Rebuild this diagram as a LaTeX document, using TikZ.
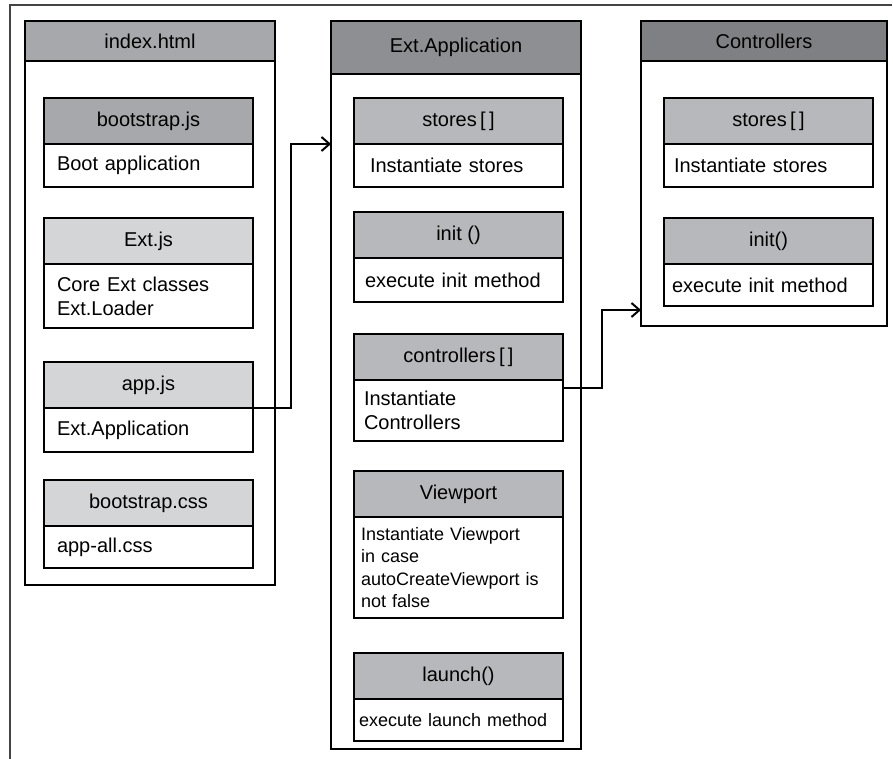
\documentclass[tikz,border=0pt]{standalone}
\usepackage{fontspec}
\setmainfont{Liberation Sans}
\usetikzlibrary{arrows.meta, positioning}

\definecolor{frame}{HTML}{444444}
\definecolor{hdrA}{HTML}{A7A8AB}
\definecolor{hdrB}{HTML}{8E8F92}
\definecolor{hdrC}{HTML}{7F8083}
\definecolor{hdrlight}{HTML}{D4D5D7}
\definecolor{hdrmid}{HTML}{B7B8BB}

\begin{document}
\begin{tikzpicture}[x=1pt, y=-1pt,
  line width=1.4pt,
  col/.style={draw, inner sep=0pt, outer sep=0pt, font=\fontsize{20}{24}\selectfont},
  colhdr/.style={col, fill=#1},
  box/.style={draw, inner sep=0pt, outer sep=0pt, minimum width=209pt, font=\fontsize{20}{24}\selectfont},
  hdr/.style={box, fill=#1, minimum height=46pt},
  body/.style={box, fill=white, inner xsep=#1, text width=209pt-2*#1, align=left},
  body/.default=13pt,
  small/.style={font=\fontsize{18}{22.6}\selectfont},
  flow/.style={line width=1.3pt, -{Straight Barb[length=8pt, width=14pt, line width=2pt]}}
]
\useasboundingbox (0,0) rectangle (893,759);
\draw[frame, line width=2pt] (10,759) -- (10,5.5) -- (892,5.5);

\node[colhdr=hdrA, anchor=north west, minimum width=250pt, minimum height=40pt] (idxH) at (25,21) {index.html};
\node[col, fill=white, minimum width=250pt, minimum height=524pt, below=0pt of idxH] (idxB) {};
\node[colhdr=hdrB, anchor=north west, minimum width=250pt, minimum height=53pt] (extH) at (331,21) {Ext.Application};
\node[col, fill=white, minimum width=250pt, minimum height=675pt, below=0pt of extH] (extB) {};
\node[colhdr=hdrC, anchor=north west, minimum width=246pt, minimum height=40pt] (ctrlH) at (641,21) {Controllers};
\node[col, fill=white, minimum width=246pt, minimum height=265pt, below=0pt of ctrlH] (ctrlB) {};

\node[hdr=hdrA, anchor=north west] (bsH) at (44,98) {bootstrap.js};
\node[body, minimum height=43pt, below=0pt of bsH] (bsB) {Boot application};
\node[hdr=hdrlight, below=31pt of bsB] (extjsH) {Ext.js};
\node[body, minimum height=64pt, below=0pt of extjsH] (extjsB) {Core Ext classes\\Ext.Loader};
\node[hdr=hdrlight, below=34pt of extjsB] (appH) {app.js};
\node[body, minimum height=44pt, below=0pt of appH] (appB) {Ext.Application};
\node[hdr=hdrlight, below=28pt of appB] (cssH) {bootstrap.css};
\node[body, minimum height=42pt, below=0pt of cssH] (cssB) {app-all.css};

\node[hdr=hdrmid, anchor=north west] (stH) at (354,98) {stores\,[\,]};
\node[body=16pt, minimum height=43pt, below=0pt of stH] (stB) {Instantiate stores};
\node[hdr=hdrmid, below=25pt of stB] (initH) {init ()};
\node[body=11pt, minimum height=44pt, below=0pt of initH] (initB) {execute init method};
\node[hdr=hdrmid, below=32pt of initB] (ctlH) {controllers\,[\,]};
\node[body=10pt, minimum height=61pt, below=0pt of ctlH] (ctlB) {Instantiate\\Controllers};
\node[hdr=hdrmid, below=30pt of ctlB] (vpH) {Viewport};
\node[body=7pt, small, minimum height=101pt, below=0pt of vpH] (vpB) {Instantiate Viewport\\in case\\autoCreateViewport is\\not false};
\node[hdr=hdrmid, below=35pt of vpB] (lnH) {launch()};
\node[body=5pt, small, minimum height=42pt, below=0pt of lnH] (lnB) {execute launch method};

\node[hdr=hdrmid, anchor=north west] (cstH) at (664,98) {stores\,[\,]};
\node[body=10pt, minimum height=43pt, below=0pt of cstH] (cstB) {Instantiate stores};
\node[hdr=hdrmid, below=31pt of cstB] (cinitH) {init()};
\node[body=8pt, minimum height=42pt, below=0pt of cinitH] (cinitB) {execute init method};

\draw[flow] (appH.south east) -- ++(38,0) |- (extB.west |- stH.south);
\draw[flow] ([yshift=-8pt]ctlB.north east) -- ++(39,0) |- ([yshift=16pt]ctrlB.south west);
\end{tikzpicture}
\end{document}
